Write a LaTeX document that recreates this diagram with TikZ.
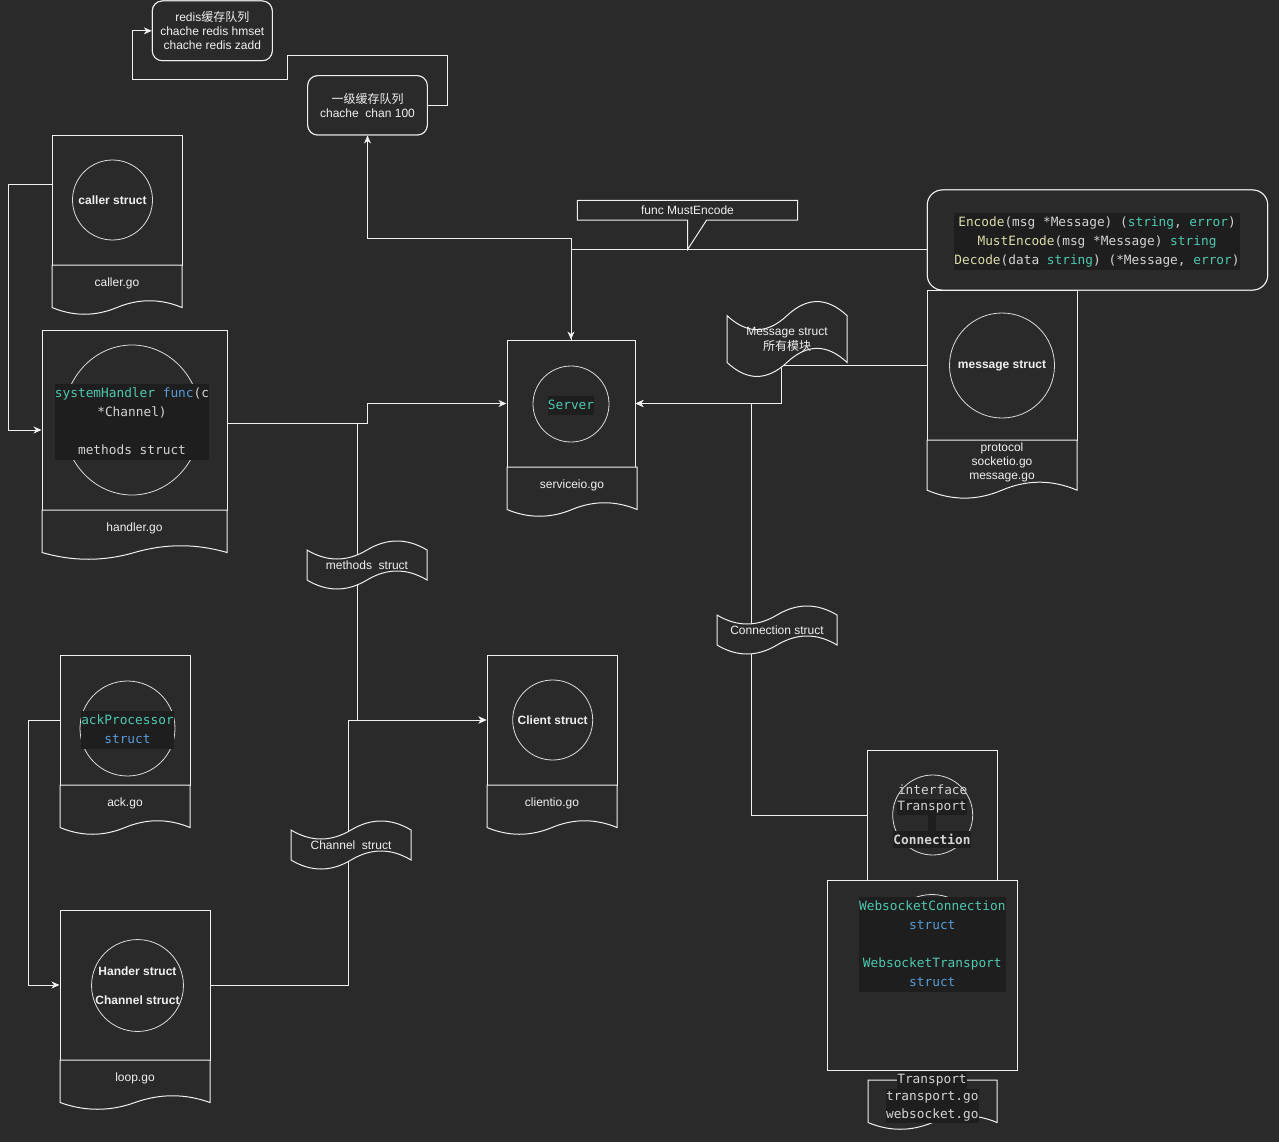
\documentclass[tikz,border=0pt]{standalone}
\usepackage{fontspec}
\setmainfont{Liberation Sans}
\newfontfamily\cjk{Noto Sans CJK SC}
\newfontfamily\codefont{DejaVu Sans Mono}
\usetikzlibrary{arrows.meta}
\definecolor{bgc}{HTML}{2A2A2A}
\definecolor{linec}{HTML}{F0F0F0}
\definecolor{circc}{HTML}{DCDCDC}
\definecolor{labelc}{HTML}{F0F0F0}
\definecolor{codebg}{HTML}{1E1E1E}
\definecolor{codegrey}{HTML}{D4D4D4}
\definecolor{codeteal}{HTML}{4EC9B0}
\definecolor{kwblue}{HTML}{569CD6}
\definecolor{fny}{HTML}{DCDCAA}

\newcommand{\docpart}[7]{%
  \pgfmathsetmacro\dxm{(#2+#4)/2}%
  \pgfmathsetmacro\dq{(#4-#2)/6}%
  \pgfmathsetmacro\dyb{#3+0.85*#5}%
  \pgfmathsetmacro\dk{0.18*#5}%
  \draw[shp] (#2,#3) -- (#4,#3) -- (#4,\dyb) .. controls ({#4-\dq},{\dyb-\dk}) and ({\dxm+\dq},{\dyb-\dk}) .. (\dxm,\dyb) .. controls ({\dxm-\dq},{\dyb+\dk}) and ({#2+\dq},{\dyb+\dk}) .. (#2,\dyb) -- cycle;
  \node[lbl] (#1) at (\dxm,#6) {#7};
}
\newcommand{\tapeshape}[6]{%
  \pgfmathsetmacro\txm{(#2+#4)/2}%
  \pgfmathsetmacro\tq{(#4-#2)/6}%
  \pgfmathsetmacro\tk{0.24*(#5-#3)}%
  \pgfmathsetmacro\tpt{#3+0.2*(#5-#3)}%
  \pgfmathsetmacro\tpb{#5-0.2*(#5-#3)}%
  \pgfmathsetmacro\tmy{(#3+#5)/2}%
  \draw[shp] (#2,\tpt) .. controls ({#2+\tq},{\tpt+\tk}) and ({\txm-\tq},{\tpt+\tk}) .. (\txm,\tpt) .. controls ({\txm+\tq},{\tpt-\tk}) and ({#4-\tq},{\tpt-\tk}) .. (#4,\tpt) -- (#4,\tpb) .. controls ({#4-\tq},{\tpb-\tk}) and ({\txm+\tq},{\tpb-\tk}) .. (\txm,\tpb) .. controls ({\txm-\tq},{\tpb+\tk}) and ({#2+\tq},{\tpb+\tk}) .. (#2,\tpb) -- cycle;
  \node[lbl] (#1) at (\txm,\tmy) {#6};
}

\begin{document}
\begin{tikzpicture}[x=1pt,y=-1pt,
  shp/.style={draw=linec, fill=bgc, line width=1pt},
  rbox/.style={shp, rectangle, inner sep=0},
  circ/.style={draw=circc, line width=0.8pt, circle, inner sep=0},
  lbl/.style={text=labelc, font=\fontsize{12}{14}\selectfont, align=center, inner sep=0},
  blbl/.style={text=labelc, font=\bfseries\fontsize{12}{14}\selectfont, align=center, inner sep=0},
  code/.style={fill=codebg, text=codegrey, font=\codefont\fontsize{12.8}{19}\selectfont, align=center, inner sep=0},
  codeln/.style={fill=codebg, text=codegrey, font=\codefont\fontsize{12.8}{16.5}\selectfont, inner sep=0, minimum height=16.5pt},
  conn/.style={draw=linec, line width=1pt},
  arr/.style={conn, -{Stealth[length=8pt,width=7pt,inset=2.5pt]}}
]
\useasboundingbox (0,0) rectangle (1279,1142);
\fill[bgc] (0,0) rectangle (1279,1142);

% ---- node anchors (positions) ----
\path
  (212.3,30.85) node[rbox, rounded corners=10pt, minimum width=120pt, minimum height=59.7pt, lbl] (redis) {}
  (367.5,105.35) node[rbox, rounded corners=10pt, minimum width=119.6pt, minimum height=59.3pt] (cache1) {}
  (1097.5,240) node[rbox, rounded corners=15pt, minimum width=340.4pt, minimum height=100pt] (encode) {}
  (117,200.5) node[rbox, minimum width=130pt, minimum height=129pt] (callerR) {}
  (134.5,420) node[rbox, minimum width=185pt, minimum height=180pt] (handlerR) {}
  (571,403.5) node[rbox, minimum width=128pt, minimum height=127pt] (serverR) {}
  (1002,365) node[rbox, minimum width=150pt, minimum height=150pt] (msgR) {}
  (552,720) node[rbox, minimum width=130pt, minimum height=130pt] (clientR) {}
  (125,720) node[rbox, minimum width=130pt, minimum height=130pt] (ackR) {}
  (135,985) node[rbox, minimum width=150pt, minimum height=150pt] (loopR) {}
  (932,815) node[rbox, minimum width=130pt, minimum height=130pt] (transR) {};

% ---- connectors ----
\draw[arr] (cache1.east) -- (447.5,105.35) -- (447.5,55.7) -- (287.7,55.7) -- (287.7,80) -- (132.3,80) |- (redis.west);
\draw[arr] (serverR.north) -- (571,238) -| (cache1.south);
\draw[arr] ([yshift=-9.3pt]encode.west) -| (serverR.north);
\draw[arr] ([yshift=-3pt]handlerR.east) -- (367,423) |- (serverR.west);
\draw[arr] ([yshift=-3pt]handlerR.east) -- (357.7,423) |- (clientR.west);
\draw[arr] (loopR.east) -- (348,985) |- (clientR.west);
\draw[arr] (ackR.west) -- (28,720) |- (loopR.west);
\draw[arr] ([yshift=15.5pt]callerR.west) -- (8,185) |- ([yshift=-10pt]handlerR.west);
\draw[arr] (msgR.west) -- (781,365) |- (serverR.east);
\draw[arr] (transR.west) -- (751,815) |- (serverR.east);

% ---- redraw boxes on top ----
\node[rbox, rounded corners=10pt, minimum width=120pt, minimum height=59.7pt, lbl, draw=linec, fill=bgc] at (redis) {redis{\cjk 缓存队列}\\chache redis hmset\\chache redis zadd};
\node[rbox, rounded corners=10pt, minimum width=119.6pt, minimum height=59.3pt, lbl, draw=linec, fill=bgc] at (cache1) {{\cjk 一级缓存队列}\\chache\ \ chan 100};

% encode box
\node[rbox, rounded corners=15pt, minimum width=340.4pt, minimum height=100pt] at (encode) {};
\node[code] (enccode) at (1097,241.2) {{\color{fny}Encode}(msg *Message) ({\color{codeteal}string}, {\color{codeteal}error})\strut\\
{\color{fny}MustEncode}(msg *Message) {\color{codeteal}string}\strut\\
{\color{fny}Decode}(data {\color{codeteal}string}) (*Message, {\color{codeteal}error})\strut};

% callout
\draw[shp] (577.3,200.3) -- (797.7,200.3) -- (797.7,220) -- (706.7,220) -- (687.7,249.3) -- (687.7,220) -- (577.3,220) -- cycle;
\node[lbl] (mustenc) at (687.5,210.6) {func MustEncode};

% caller
\node[rbox, minimum width=130pt, minimum height=129pt] at (callerR) {};
\node[circ, minimum size=80pt, blbl] (callerC) at (112.5,200) {caller struct};
\docpart{callergo}{52}{265}{182}{50}{283.8}{caller.go}

% handler
\node[rbox, minimum width=185pt, minimum height=180pt] at (handlerR) {};
\draw[draw=circc, line width=0.8pt] (132,420) ellipse (69pt and 75pt);
\node[code] (handlercode) at (132,422) {{\color{codeteal}systemHandler} {\color{kwblue}func}(c\strut\\{}*Channel)\strut\\\strut\\methods struct\strut};
\docpart{handlergo}{42}{510}{227}{50}{528.8}{handler.go}

% server
\node[rbox, minimum width=128pt, minimum height=127pt] at (serverR) {};
\node[circ, minimum size=76pt] (serverC) at (571,404) {};
\node[code, text=codeteal] (servercode) at (571,405.5) {Server\strut};
\docpart{servergo}{507}{467}{637}{50}{485.8}{serviceio.go}

% message
\node[rbox, minimum width=150pt, minimum height=150pt] at (msgR) {};
\node[circ, minimum size=105pt, blbl] (msgC) at (1002,365.5) {message struct};
\docpart{msggo}{927}{440}{1077}{59}{462.2}{\fontsize{12}{14.5}\selectfont protocol\\socketio.go\\message.go}

% client
\node[rbox, minimum width=130pt, minimum height=130pt] at (clientR) {};
\node[circ, minimum size=80pt, blbl] (clientC) at (552.7,720) {Client struct};
\docpart{clientgo}{487}{785}{617}{50}{803.8}{clientio.go}

% ack
\node[rbox, minimum width=130pt, minimum height=130pt] at (ackR) {};
\node[circ, minimum size=95pt] (ackC) at (127.5,728.5) {};
\node[code] (ackcode) at (127.5,730) {{\color{codeteal}ackProcessor}\strut\\{\color{kwblue}struct}\strut};
\docpart{ackgo}{60}{785}{190}{50}{803.8}{ack.go}

% loop
\node[rbox, minimum width=150pt, minimum height=150pt] at (loopR) {};
\node[circ, minimum size=90pt, blbl, font=\bfseries\fontsize{12}{29}\selectfont] (loopC) at (137.5,985.5) {Hander struct\\Channel struct};
\docpart{loopgo}{60}{1060}{210}{50}{1078.8}{loop.go}

% transport
\node[rbox, minimum width=130pt, minimum height=130pt] at (transR) {};
\node[circ, minimum size=80pt] (transC) at (932.7,815) {};
\node[text=codegrey, font=\codefont\fontsize{12.8}{16.5}\selectfont, inner sep=0] (tint) at (932.7,790) {interface};
\node[codeln] (ttr) at (932,806.8) {Transport};
\fill[codebg] (928,814) rectangle (936,831);
\node[codeln, font=\codefont\bfseries\fontsize{12.8}{16.5}\selectfont] (tconn) at (932,839.3) {Connection};
\node[rbox, minimum width=190pt, minimum height=190pt] (transL) at (922,975) {};
\draw[draw=circc, line width=0.8pt] (932,942) circle (47.5pt);
\node[code] (wscode) at (932.3,944.4) {{\color{codeteal}WebsocketConnection}\strut\\{\color{kwblue}struct}\strut\\\strut\\{\color{codeteal}WebsocketTransport}\strut\\{\color{kwblue}struct}\strut};
\docpart{transgo}{868}{1080}{997}{50}{1097}{}
\node[codeln] at (932,1080.5) {Transport};
\node[codeln] at (932.3,1097.5) {transport.go};
\node[codeln] at (932.3,1114.5) {websocket.go};

% tapes
\tapeshape{msgtape}{727}{300}{847}{378}{Message struct\\[1pt]{\cjk 所有模块}}
\tapeshape{methtape}{307}{540}{427}{590}{methods\ \ struct}
\tapeshape{conntape}{717}{605}{837}{655}{Connection struct}
\tapeshape{chantape}{291}{820}{411}{870}{Channel\ \ struct}
\end{tikzpicture}
\end{document}
